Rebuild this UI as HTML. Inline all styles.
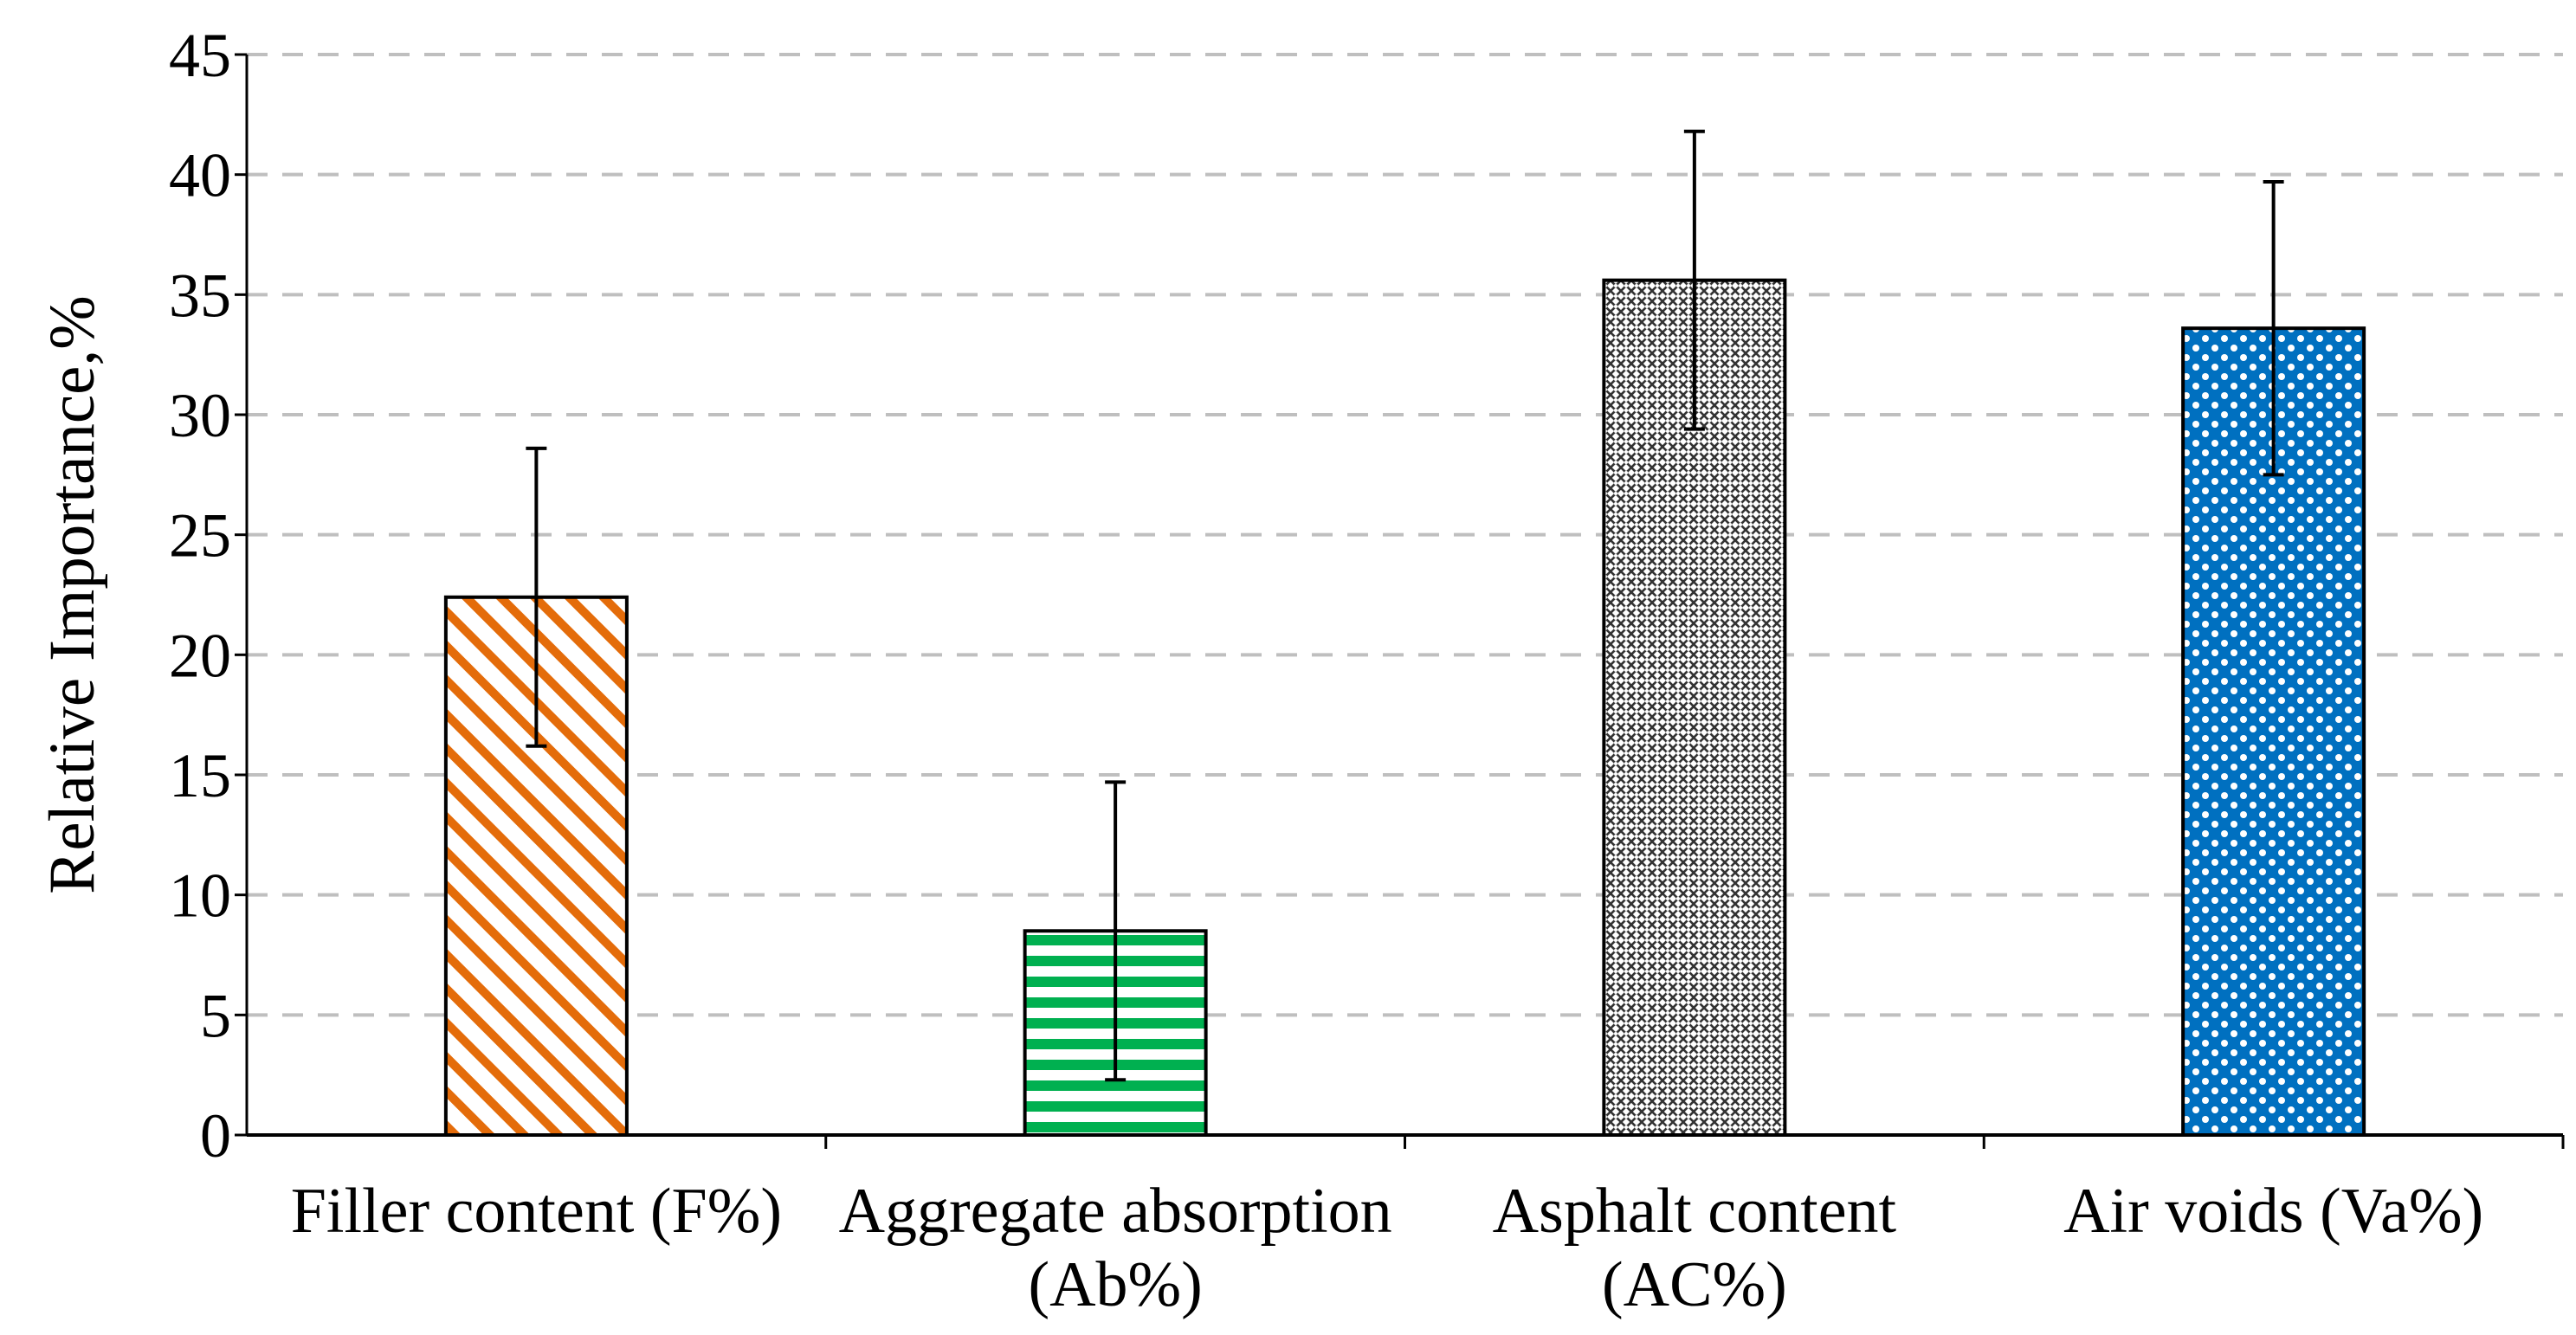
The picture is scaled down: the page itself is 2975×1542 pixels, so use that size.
<!DOCTYPE html>
<html><head><meta charset="utf-8">
<style>
html,body{margin:0;padding:0;background:#fff;}
svg{display:block;font-family:"Liberation Serif",serif;}
</style></head>
<body>
<svg id="chart" width="2975" height="1542" viewBox="0 0 2975 1542" xmlns="http://www.w3.org/2000/svg">
<defs>
<pattern id="pOrange" patternUnits="userSpaceOnUse" width="28" height="28" patternTransform="rotate(-45)">
<rect width="28" height="28" fill="#fff"/><rect x="0" y="0" width="10" height="28" fill="#e46c0a"/>
</pattern>
<pattern id="pGreen" patternUnits="userSpaceOnUse" width="20" height="24">
<rect width="20" height="24" fill="#fff"/><rect x="0" y="0" width="20" height="12" fill="#00b050"/>
</pattern>
<pattern id="pGray" patternUnits="userSpaceOnUse" width="12" height="12">
<rect width="12" height="12" fill="#fff"/>
<path d="M0 0L12 12M12 0L0 12" stroke="#333" stroke-width="2.6"/>
<circle cx="6" cy="6" r="2" fill="#fff"/>
</pattern>
<pattern id="pBlue" patternUnits="userSpaceOnUse" width="22" height="22">
<rect width="22" height="22" fill="#0070c0"/>
<circle cx="6" cy="6" r="4" fill="#fff"/>
<circle cx="17" cy="17" r="4" fill="#fff"/>
</pattern>
</defs>
<g id="grid"></g>
<g id="bars"></g>
<g id="axes"></g>
<text transform="translate(108,687) rotate(-90)" text-anchor="middle" font-size="75">Relative Importance,%</text>
</svg>
<script>
const categories = [["Filler content (F%)"],["Aggregate absorption","(Ab%)"],["Asphalt content","(AC%)"],["Air voids (Va%)"]];
const values = [22.4, 8.5, 35.6, 33.6];
const errors = [6.2, 6.2, 6.2, 6.1];
const yTicks = [0,5,10,15,20,25,30,35,40,45];
const fills = ["url(#pOrange)","url(#pGreen)","url(#pGray)","url(#pBlue)"];

const NS="http://www.w3.org/2000/svg";
const X0=285, X1=2960, Y0=1311, Y45=63;
const yS=v=>Y0-(v/45)*(Y0-Y45);
const band=(X1-X0)/categories.length;
const xC=i=>X0+band*(i+0.5);
const BW=209;
function mk(tag,attrs,parent){const e=document.createElementNS(NS,tag);for(const k in attrs)e.setAttribute(k,attrs[k]);parent.appendChild(e);return e;}
const grid=document.getElementById('grid'),bars=document.getElementById('bars'),axes=document.getElementById('axes');
yTicks.forEach(t=>{
  if(t>0){const g=mk('line',{x1:X0,x2:X1,y1:yS(t),y2:yS(t),stroke:'#bfbfbf','stroke-width':4,'stroke-dasharray':'24 17'},grid);
  
  }
  const tk=mk('line',{x1:X0-14,x2:X0,y1:yS(t),y2:yS(t),stroke:'#000','stroke-width':3},axes);
  
  
  const tl=mk('text',{x:X0-broad(),y:yS(t)+25,'text-anchor':'end','font-size':72},axes);
  tl.textContent=t;
  
  
});
function broad(){return 18;}
values.forEach((v,i)=>{
  const r=mk('rect',{x:xC(i)-BW/2,y:yS(v),width:BW,height:Y0-yS(v),fill:fills[i],stroke:'#000','stroke-width':4},bars);
  
  
  const e=errors[i],g=mk('g',{stroke:'#000','stroke-width':4},bars);
  
  
  mk('line',{x1:xC(i),x2:xC(i),y1:yS(v+e),y2:yS(v-e)},g);
  mk('line',{x1:xC(i)-12,x2:xC(i)+12,y1:yS(v+e),y2:yS(v+e)},g);
  mk('line',{x1:xC(i)-12,x2:xC(i)+12,y1:yS(v-e),y2:yS(v-e)},g);
  categories[i].forEach((ln,j)=>{
    const t=mk('text',{x:xC(i),y:1423+j*85,'text-anchor':'middle','font-size':74},axes);
    t.textContent=ln;
    
    
  });
});
for(let i=1;i<=categories.length;i++){
  const tk=mk('line',{x1:X0+band*i,x2:X0+band*i,y1:Y0,y2:Y0+16,stroke:'#000','stroke-width':3},axes);
  
  
}
const ya=mk('line',{x1:X0,x2:X0,y1:Y45,y2:Y0,stroke:'#000','stroke-width':3},axes);


const xa=mk('line',{x1:X0,x2:X1,y1:Y0,y2:Y0,stroke:'#000','stroke-width':4},axes);


</script>
</body></html>
